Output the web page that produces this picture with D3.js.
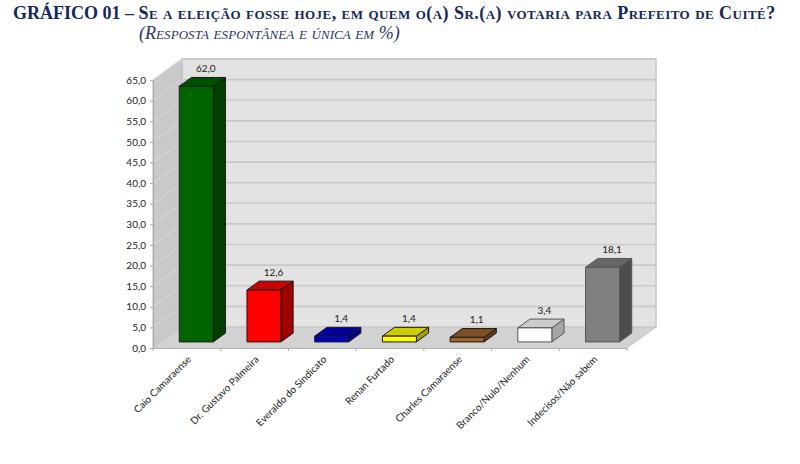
<!DOCTYPE html>
<html><head><meta charset="utf-8">
<script src="https://cdn.jsdelivr.net/npm/d3@7"></script>
<style>html,body{margin:0;background:#fff}svg{display:block}</style></head>
<body><svg id="c" width="800" height="464"></svg>
<script>
const categories=["Caio Camaraense","Dr. Gustavo Palmeira","Everaldo do Sindicato","Renan Furtado","Charles Camaraense","Branco/Nulo/Nenhum","Indecisos/Não sabem"];
const values=[62.0,12.6,1.4,1.4,1.1,3.4,18.1];
const valueLabels=["62,0","12,6","1,4","1,4","1,1","3,4","18,1"];
const frontColors=["#006400","#ff0000","#0000c0","#ffff00","#a0622d","#ffffff","#808080"];
const topColors=["#005000","#cc0000","#00009a","#cccc00","#7f4f24","#cccccc","#666666"];
const sideColors=["#003f00","#a00000","#000080","#a0a000","#603b1b","#a6a6a6","#4d4d4d"];
const yTicks=d3.range(0,66,5);
const titleLead="GRÁFICO 01 – ";
const titleMain="Se a eleição fosse hoje, em quem o(a) Sr.(a) votaria para Prefeito de Cuité?";
const titleSub="(Resposta espontânea e única em %)";

const svg=d3.select("#c");
const x=d3.scaleBand().domain(categories).range([153,627]);
const y=d3.scaleLinear().domain([0,65]).range([348,80]);
const dx=d3.scaleLinear().domain([0,1]).range([0,29]);
const dy=d3.scaleLinear().domain([0,1]).range([0,-21]);
const poly=pts=>pts.map(p=>p.join(",")).join(" ");
const x0=x.range()[0],x1=x.range()[1],yB=y(0),yT=y(65);
const P=(px,py,d)=>[px+dx(d),py+dy(d)];

const wall=svg.append("g");
wall.append("polygon").attr("points",poly([P(x0,yT,1),P(x1,yT,1),P(x1,yB,1),P(x0,yB,1)])).attr("fill","#e3e3e3").attr("stroke","#c8c8c8").attr("stroke-width",1.5);
wall.append("polygon").attr("points",poly([P(x0,yT,0),P(x0,yT,1),P(x0,yB,1),P(x0,yB,0)])).attr("fill","#c9c9c9").attr("stroke","#bdbdbd");
wall.append("polygon").attr("points",poly([P(x0,yB,0),P(x0,yB,1),P(x1,yB,1),P(x1,yB,0)])).attr("fill","#d2d2d2").attr("stroke","#c8c8c8");
yTicks.forEach(t=>{
  if(t===0)return;
  const a=P(x0,y(t),0),b=P(x0,y(t),1),c=P(x1,y(t),1);
  wall.append("polyline").attr("points",poly([a,b])).attr("fill","none").attr("stroke","#d6d6d6").attr("stroke-width",1.2);
  wall.append("polyline").attr("points",poly([b,c])).attr("fill","none").attr("stroke","#c9c9c9").attr("stroke-width",1.6);
});
const font="Lato, 'Open Sans', sans-serif";
const yAxis=svg.append("g").attr("transform",`translate(${x0},0)`).call(d3.axisLeft(y).tickValues(yTicks).tickSize(3).tickFormat(d=>d3.format(".1f")(d).replace(".",",")));
yAxis.selectAll("text").attr("font-family",font).attr("font-size",10).attr("fill","#222").attr("dx",-1);
yAxis.selectAll("line,path").attr("stroke","#a8a8a8");
const xAxis=svg.append("g").attr("transform",`translate(0,${yB})`).call(d3.axisBottom(x).tickSize(0).tickPadding(0));
xAxis.select("path").attr("stroke","#b4b4b4").attr("stroke-width",1);
xAxis.selectAll("text").attr("font-family",font).attr("font-size",10).attr("fill","#222")
  .attr("text-anchor","end").attr("y",0).attr("dy",0)
  .attr("transform","translate(5,12) rotate(-45)");
d3.range(categories.length+1).forEach(i=>{
  const px=x0+i*x.step();
  svg.append("line").attr("x1",px).attr("x2",px).attr("y1",yB).attr("y2",yB+3).attr("stroke","#a8a8a8");
});
const d0=0.29,d1=0.71,w=34;
const bars=svg.append("g").selectAll("g").data(categories).join("g");
bars.each(function(c,i){
  const g=d3.select(this);
  const l=x(c)+x.bandwidth()/2-w/2+1,r=l+w,top=y(values[i]),bot=yB;
  const st={stroke:i===5||i===6?"#555":"#1a1a1a"};
  const pg=(pts,fill)=>g.append("polygon").attr("points",poly(pts)).attr("fill",fill).attr("stroke",st.stroke).attr("stroke-width",1).attr("stroke-linejoin","round");
  pg([P(r,top,d0),P(r,top,d1),P(r,bot,d1),P(r,bot,d0)],sideColors[i]);
  pg([P(l,top,d0),P(l,top,d1),P(r,top,d1),P(r,top,d0)],topColors[i]);
  pg([P(l,top,d0),P(r,top,d0),P(r,bot,d0),P(l,bot,d0)],frontColors[i]);
  const p=P(l+w/2,top,d0);
  g.append("text").attr("x",p[0]+9.5).attr("y",p[1]-14).attr("text-anchor","middle")
   .attr("font-family",font).attr("font-size",10).attr("fill","#222").text(valueLabels[i]);
});
const t=svg.append("text").attr("x",13).attr("y",19).attr("font-family","'Liberation Serif',serif").attr("font-weight","bold")
  .attr("font-size",18).attr("font-variant","small-caps").attr("fill","#14285a");
t.append("tspan").text(titleLead);
t.append("tspan").attr("letter-spacing",0.46).text(titleMain);
svg.append("text").attr("x",139).attr("y",39).attr("font-family","'Liberation Serif',serif").attr("font-style","italic")
  .attr("font-size",18).attr("font-variant","small-caps").attr("letter-spacing",0.06).attr("fill","#1f3468").text(titleSub);
</script></body></html>
